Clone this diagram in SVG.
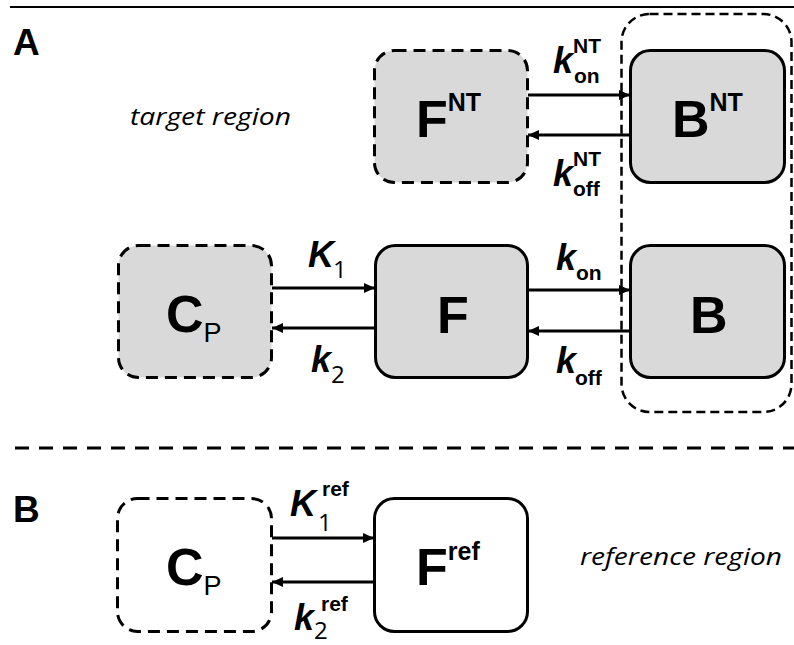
<svg xmlns="http://www.w3.org/2000/svg" width="794" height="645" viewBox="0 0 794 645">
<defs>
<marker id="ah" markerUnits="userSpaceOnUse" markerWidth="12" markerHeight="12" refX="11" refY="6" orient="auto">
<path d="M0,1 L11,6 L0,11 z" fill="#000"/>
</marker>
<style>
.box{stroke:#000;stroke-width:3}
.gray{fill:#d9d9d9}
.white{fill:#fff}
.dash{stroke-dasharray:12 7}
.big{font-family:"Liberation Sans",Arial,sans-serif;font-weight:bold;font-size:52px;fill:#000}
.sup{font-family:"Liberation Sans",Arial,sans-serif;font-weight:bold;font-size:25px;fill:#000}
.sub{font-family:"Liberation Sans",Arial,sans-serif;font-weight:normal;font-size:27px;fill:#000}
.k{font-family:"Liberation Sans",Arial,sans-serif;font-weight:bold;font-style:italic;font-size:36px;fill:#000}
.ks{font-family:"Liberation Sans",Arial,sans-serif;font-weight:bold;font-size:21px;fill:#000}
.kn{font-family:"Open Sans","Liberation Sans",sans-serif;font-size:24px;fill:#000}
.lab{font-family:"Liberation Sans",Arial,sans-serif;font-weight:bold;font-size:37px;fill:#000}
.reg{font-family:"Open Sans","Liberation Sans",sans-serif;font-style:italic;font-size:24px;fill:#000}
.conn{stroke:#000;stroke-width:2.8;fill:none;marker-end:url(#ah)}
</style>
</defs>
<rect width="794" height="645" fill="#fff"/>
<line x1="10" y1="7" x2="794" y2="7" stroke="#000" stroke-width="2"/>
<line x1="15" y1="448" x2="794" y2="448" stroke="#000" stroke-width="3" stroke-dasharray="14 10"/>
<text class="lab" x="13" y="55">A</text>
<text class="lab" x="13" y="522">B</text>
<text class="reg" x="130" y="125" textLength="161" lengthAdjust="spacingAndGlyphs">target region</text>
<text class="reg" x="580" y="565" textLength="202" lengthAdjust="spacingAndGlyphs">reference region</text>

<g id="FNT">
<rect class="box gray dash" x="374.5" y="50.5" width="153" height="132" rx="20"/>
<text class="big" x="416" y="137">F<tspan class="sup" dy="-26">NT</tspan></text>
</g>
<g id="BNT">
<rect class="box gray" x="630.5" y="50.5" width="154" height="132" rx="20"/>
<text class="big" x="672" y="137">B<tspan class="sup" dy="-26">NT</tspan></text>
</g>
<g id="CP">
<rect class="box gray dash" x="118.5" y="245.5" width="153" height="132" rx="20"/>
<text class="big" x="166" y="332">C<tspan class="sub" dy="10">P</tspan></text>
</g>
<g id="F">
<rect class="box gray" x="375.5" y="245.5" width="152" height="132" rx="20"/>
<text class="big" x="437" y="333">F</text>
</g>
<g id="B">
<rect class="box gray" x="630.5" y="245.5" width="154" height="132" rx="20"/>
<text class="big" x="690" y="333">B</text>
</g>
<g id="CPref">
<rect class="box white dash" x="117.5" y="498.5" width="154" height="133" rx="20"/>
<text class="big" x="166" y="585">C<tspan class="sub" dy="10">P</tspan></text>
</g>
<g id="Fref">
<rect class="box white" x="374.5" y="498.5" width="153" height="133" rx="20"/>
<text class="big" x="416" y="585">F<tspan class="sup" dy="-25">ref</tspan></text>
</g>
<g id="bound">
<rect x="621.5" y="14" width="170" height="398" rx="28" fill="none" stroke="#000" stroke-width="2.5" stroke-dasharray="9 5"/>
</g>

<g id="connectors">
<line class="conn" x1="528" y1="95" x2="630" y2="95"/>
<line class="conn" x1="630" y1="135" x2="528" y2="135"/>
<line class="conn" x1="272" y1="288" x2="375" y2="288"/>
<line class="conn" x1="375" y1="328" x2="272" y2="328"/>
<line class="conn" x1="528" y1="290" x2="630" y2="290"/>
<line class="conn" x1="630" y1="331" x2="528" y2="331"/>
<line class="conn" x1="272" y1="538" x2="374" y2="538"/>
<line class="conn" x1="374" y1="582" x2="272" y2="582"/>
</g>

<g id="labels">
<text class="k" x="553" y="73">k</text><text class="ks" x="573" y="53">NT</text><text class="ks" x="574" y="83">on</text>
<text class="k" x="553" y="186">k</text><text class="ks" x="573" y="166">NT</text><text class="ks" x="573" y="196">off</text>
<text class="k" x="308" y="267">K</text><text class="kn" x="333" y="278">1</text>
<text class="k" x="311" y="372">k</text><text class="kn" x="331" y="383">2</text>
<text class="k" x="556" y="270">k</text><text class="ks" x="576" y="280">on</text>
<text class="k" x="556" y="373">k</text><text class="ks" x="575" y="385">off</text>
<text class="k" x="290" y="516">K</text><text class="ks" x="322" y="496">ref</text><text class="kn" x="318" y="531">1</text>
<text class="k" x="294" y="630">k</text><text class="ks" x="321" y="611">ref</text><text class="kn" x="314" y="639">2</text>
</g>
</svg>
